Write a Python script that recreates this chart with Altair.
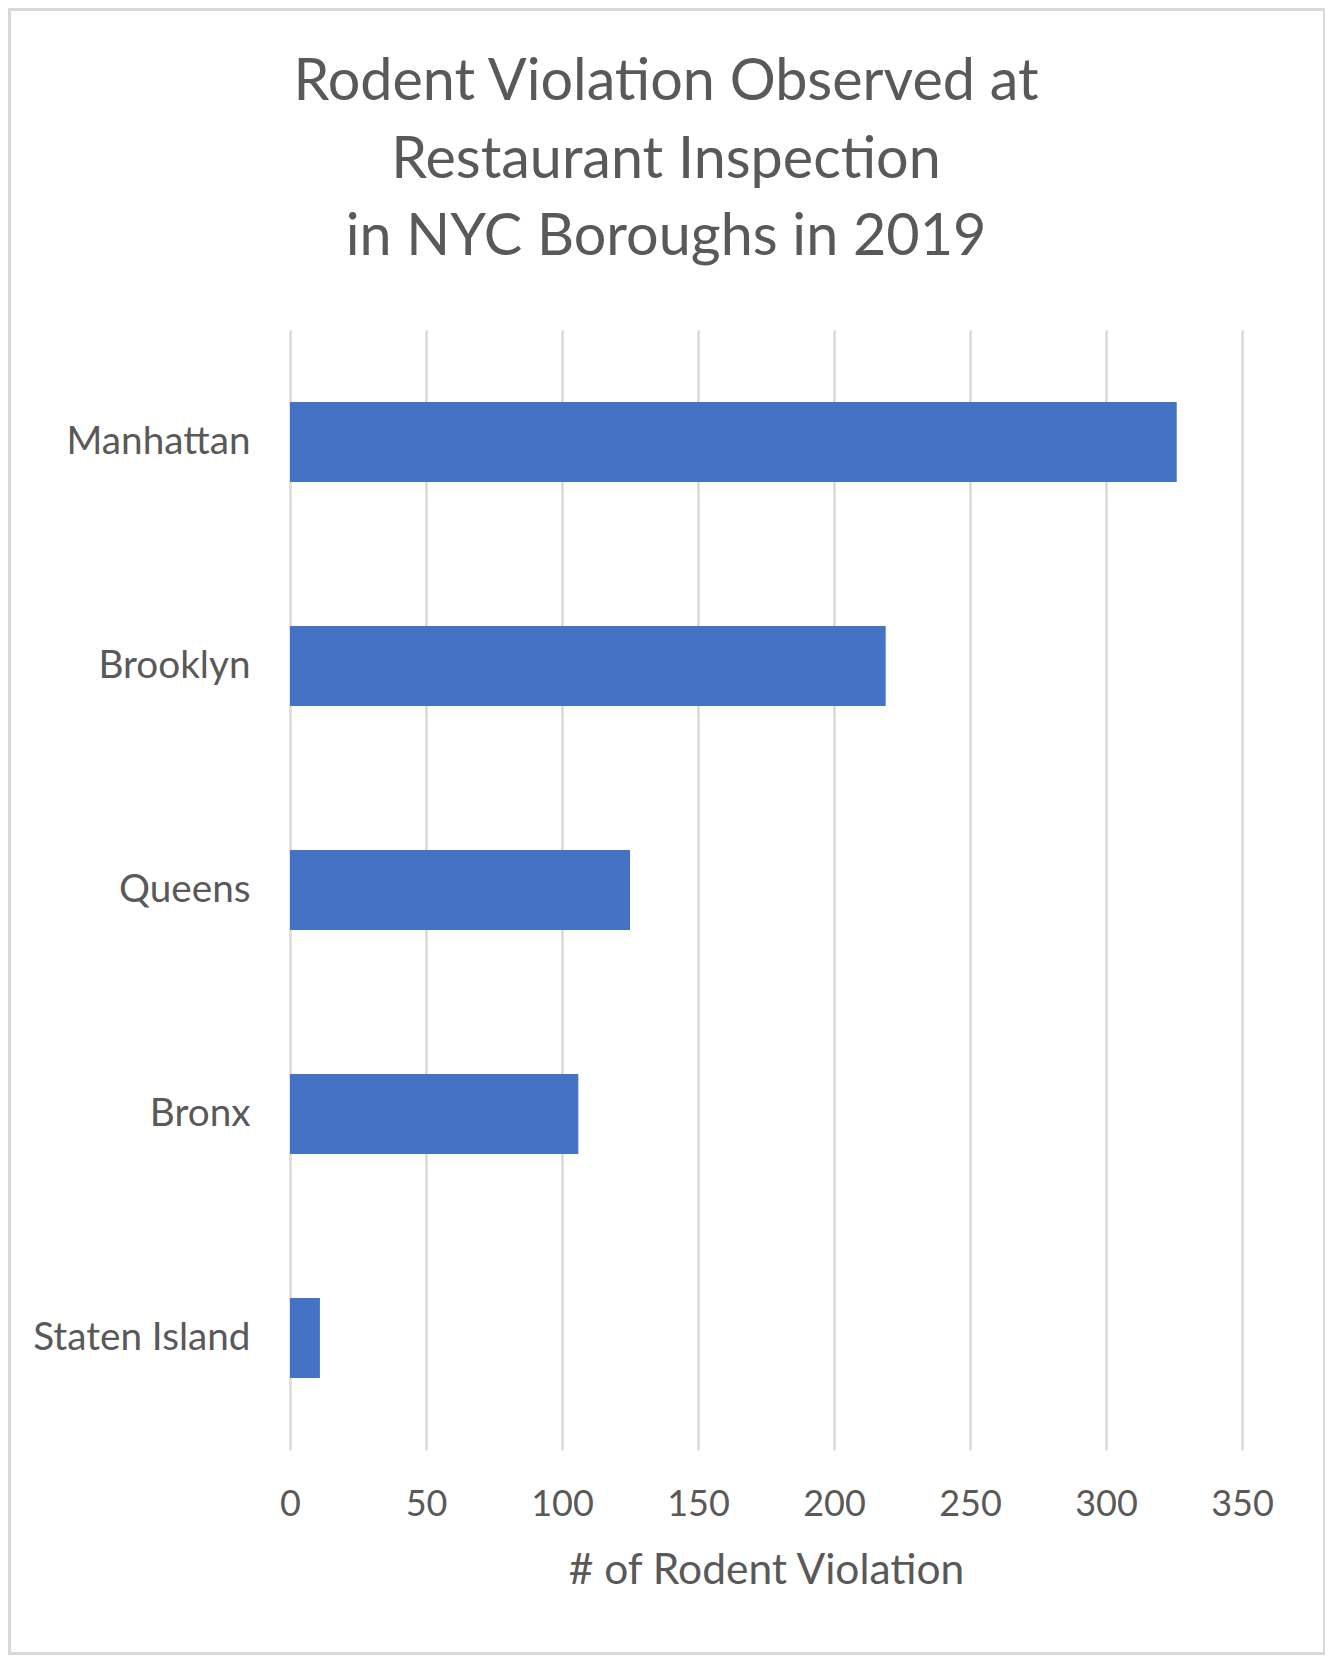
import altair as alt
import pandas as pd

boroughs = ["Manhattan", "Brooklyn", "Queens", "Bronx", "Staten Island"]
violations = [326, 219, 125, 106, 11]
x_ticks = [0, 50, 100, 150, 200, 250, 300, 350]
title_lines = ["Rodent Violation Observed at", "Restaurant Inspection", "in NYC Boroughs in 2019"]
x_title = "# of Rodent Violation"

df = pd.DataFrame({"borough": boroughs, "count": violations})

W, H = 952, 1120
PADL, PADT = 282, 322
FONT = "Lato"
GREY = "#595959"

bars = alt.Chart(df).mark_bar(color="#4472C4").encode(
    x=alt.X("count:Q",
            scale=alt.Scale(domain=[0, 350], nice=False, zero=True),
            axis=alt.Axis(values=x_ticks, title=x_title, grid=True, gridColor="#d9d9d9",
                          gridWidth=2.5, domain=False, ticks=False, labelFont=FONT,
                          labelFontSize=36, labelColor=GREY, labelPadding=37.5,
                          labelFlush=False,
                          titleFont=FONT, titleFontSize=42.5, titleColor=GREY,
                          titleFontWeight="normal", titlePadding=27)),
    y=alt.Y("borough:N", sort=boroughs,
            scale=alt.Scale(paddingInner=0.643, paddingOuter=0.3215),
            axis=alt.Axis(title=None, domain=False, ticks=False, labelFont=FONT,
                          labelFontSize=38.7, labelColor=GREY, labelPadding=40,
                          labelLimit=500)),
)

frame = alt.Chart(df).mark_rect(fill=None, stroke="#d9d9d9", strokeWidth=3).encode(
    x=alt.value(-PADL + 1.5), x2=alt.value(1325 - 8 - PADL - 1.5 + 1),
    y=alt.value(-PADT + 1.5), y2=alt.value(1654 - 8 - PADT - 1.5 + 1),
)

chart = alt.layer(frame, bars).properties(
    width=W, height=H,
    title=alt.TitleParams(text=title_lines, font=FONT, fontSize=57.5, color=GREY,
                          fontWeight="normal", anchor="middle", baseline="alphabetic",
                          lineHeight=77.5, offset=-304.5, dx=-100),
    padding={"left": PADL, "top": PADT, "right": 1333 - 16 - PADL - W, "bottom": 1663 - 16 - PADT - H},
    autosize=alt.AutoSizeParams(type="none"),
).configure_view(stroke=None)

chart.save("out.html", embed_options={"renderer": "svg", "actions": False})
